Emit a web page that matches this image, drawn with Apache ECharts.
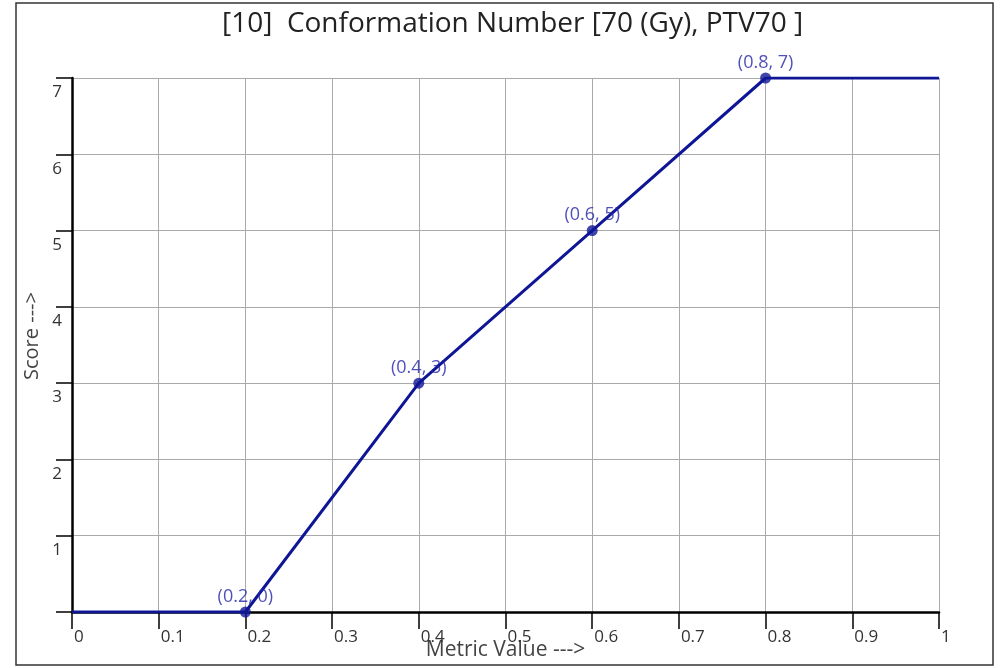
<!DOCTYPE html>
<html>
<head>
<meta charset="utf-8">
<script src="https://cdn.jsdelivr.net/npm/echarts@6/dist/echarts.min.js"></script>
<style>
  html, body { margin: 0; padding: 0; background: #fff; }
  #chart { width: 1001px; height: 668px; }
</style>
</head>
<body>
<div id="chart"></div>
<script>
// score curve
const metricValues = [0, 0.2, 0.4, 0.6, 0.8, 1]
const scores = [0, 0, 3, 5, 7, 7]
// which points get a marker + "(x, y)" label
const markedPoints = [1, 2, 3, 4]

const titleText = '[10]  Conformation Number [70 (Gy), PTV70 ]'
const xName = 'Metric Value --->'
const yName = 'Score --->'

const lineColor = '#0f1696'
const labelColor = '#2424a8'
const font = '"Open Sans", "Noto Sans", sans-serif'

const chart = echarts.init(document.getElementById('chart'))

const lineData = metricValues.map((x, i) => [x, scores[i]])
const markData = markedPoints.map(i => [metricValues[i], scores[i]])

chart.setOption({
  animation: false,
  textStyle: { fontFamily: font },
  title: {
    text: titleText,
    left: 217,
    top: 5,
    textStyle: { fontSize: 28, fontWeight: 'normal', color: '#222', fontFamily: font }
  },
  grid: { left: 72, right: 62, top: 78, bottom: 56, containLabel: false, outerBoundsMode: 'none' },
  graphic: [{
    type: 'rect',
    shape: { x: 16, y: 3, width: 977, height: 662 },
    style: { fill: 'none', stroke: '#333', lineWidth: 1.5 },
    z: 100
  }],
  xAxis: {
    type: 'value',
    min: 0,
    max: 1,
    interval: 0.1,
    name: xName,
    nameLocation: 'middle',
    nameGap: 28,
    nameMoveOverlap: false,
    nameTextStyle: { fontSize: 21, color: '#444' },
    axisLine: { show: true, onZero: false, lineStyle: { color: '#000', width: 2.5 } },
    axisTick: { show: true, length: 17, lineStyle: { color: '#000', width: 1.5 } },
    axisLabel: {
      align: 'left',
      margin: 17,
      padding: [0, 0, 0, 2],
      fontSize: 17,
      color: '#333',
      formatter: v => String(Math.round(v * 10) / 10)
    },
    splitLine: { show: true, lineStyle: { color: '#aaa', width: 1 } }
  },
  yAxis: {
    type: 'value',
    min: 0,
    max: 7,
    interval: 1,
    name: yName,
    nameLocation: 'middle',
    nameGap: 30,
    nameMoveOverlap: false,
    nameTextStyle: { fontSize: 20, color: '#444', padding: [0, 0, 0, 18] },
    axisLine: { show: true, onZero: false, lineStyle: { color: '#000', width: 2.5 } },
    axisTick: { show: true, length: 16, lineStyle: { color: '#000', width: 1.5 } },
    axisLabel: {
      verticalAlign: 'top',
      margin: 10,
      padding: [6, 0, 0, 0],
      fontSize: 17,
      color: '#333',
      formatter: v => (v === 0 ? '' : String(v))
    },
    splitLine: { show: true, lineStyle: { color: '#aaa', width: 1 } }
  },
  series: [
    {
      type: 'line',
      data: lineData,
      showSymbol: false,
      lineStyle: { color: lineColor, width: 3 },
      z: 3
    },
    {
      type: 'scatter',
      data: markData,
      symbol: 'circle',
      symbolSize: 11,
      itemStyle: { color: lineColor },
      label: {
        show: true,
        position: 'top',
        distance: 1,
        fontSize: 18,
        color: labelColor,
        formatter: p => '(' + p.value[0] + ', ' + p.value[1] + ')'
      },
      z: 4
    }
  ]
})
</script>
</body>
</html>
